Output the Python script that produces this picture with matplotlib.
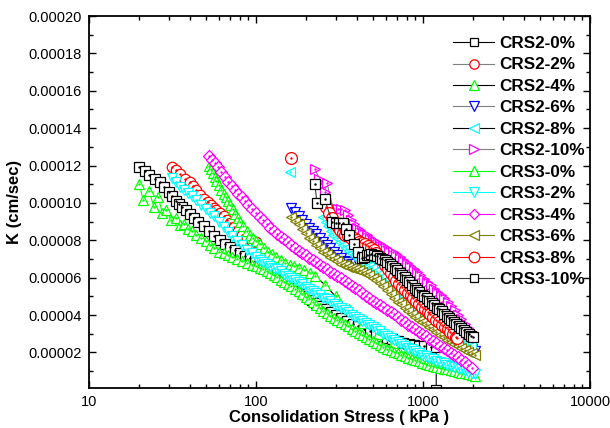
import numpy as np
import matplotlib.pyplot as plt
from matplotlib.ticker import MultipleLocator, FuncFormatter, LogLocator, NullFormatter

plt.rcParams['font.family'] = ['Liberation Sans', 'DejaVu Sans']

nan = np.nan

# Consolidation stress (kPa) and K (in 1e-5 cm/sec).
# stress steps of the dense high-stress part of the CRS3 runs
s_grid = [100, 105, 110, 116, 122, 128, 134, 141, 148, 155, 163, 171, 180, 189, 198, 208, 218, 229, 241, 253,
          265, 279, 293, 307, 323, 339, 356, 374, 392, 412, 432, 454, 477, 500, 525, 552, 579, 608, 639, 670,
          704, 739, 776, 815, 856, 899, 943, 991, 1040, 1092, 1147, 1204, 1264, 1327, 1394, 1464, 1537, 1614,
          1694, 1779, 1868, 1961, 2059]

s_crs2_0 = [20, 21.5, 22.9, 24.7, 26.6, 28.3, 30, 31.5, 33, 34.5, 36, 38, 40, 42.5, 45, 48.5, 52, 56, 61, 65.5,
            70, 75, 80, 86, 92, 98, 105, 111, 118, 125, 132, 140, 148, 156, 165, 175, 185, 195, 205, 217,
            230, 245, 260, 280, 300, 325, 350, 380, 410, 445, 480, 520, 560, 605, 650, 705, 760, 820, 880, 950,
            1020, 1110, 1200, 1200]
k_crs2_0 = [11.9, 11.7, 11.5, 11.3, 11.1, 10.85, 10.6, 10.35, 10.1, 9.95, 9.8, 9.6, 9.4, 9.2, 9.0, 8.75, 8.5, 8.25, 8.0, 7.82,
            7.65, 7.47, 7.3, 7.17, 7.05, 6.92, 6.8, 6.7, 6.6, 6.4, 6.2, 6.05, 5.9, 5.75, 5.6, 5.45, 5.3, 5.15, 5.0, 4.82,
            4.65, 4.47, 4.3, 4.15, 4.0, 3.85, 3.7, 3.55, 3.4, 3.27, 3.15, 3.02, 2.9, 2.8, 2.7, 2.6, 2.5, 2.45, 2.4, 2.37,
            2.35, 2.32, 2.3, 0.0]

s_crs2_2 = [31.4, 33, 35, 37.5, 40, 42, 44, 46.5, 49, 51.5, 54, 56, 58, 61, 64, 67, 70, 74, 78, 83, 88, 94, 100]
k_crs2_2 = [11.9, 11.75, 11.55, 11.3, 11.1, 10.9, 10.7, 10.45, 10.2, 10.05, 9.9, 9.75, 9.6, 9.45, 9.3, 9.1, 8.9, 8.7,
            8.5, 8.3, 8.1, 7.98, 7.9]

s_crs2_4 = [52, 53.5, 55, 56.5, 58, 60, 62, 64, 66, 68, 70, 72.5, 75, 77.5, 80, 84, 88, 92, 96, 100,
            105, 111, 118, 125, 132, 141, 150, 160, 170, 182, 195, 210, 225, 260, 300, 360, 440, 540, 660, 800,
            980, 1200, 1500, 2000]
k_crs2_4 = [12.0, 11.8, 11.6, 11.4, 11.2, 10.95, 10.7, 10.5, 10.3, 10.1, 9.9, 9.65, 9.4, 9.2, 9.0, 8.75, 8.5, 8.3, 8.1, 7.95,
            7.8, 7.6, 7.4, 7.25, 7.1, 6.95, 6.8, 6.7, 6.6, 6.5, 6.4, 6.25, 6.1, 5.6, 5.0, 4.3, 3.6, 3.0, 2.5, 2.1,
            1.75, 1.45, 1.15, 0.85]

s_crs2_6 = s_grid[10:]
k_crs2_6 = [9.73, 9.5, 9.3, 9.08, 8.85, 8.68, 8.52, 8.33, 8.13, 7.93, 7.75, 7.57, 7.39, 7.22, 7.06, 6.92, 6.82, 6.76,
            6.72, 6.70, 6.68, 6.64, 6.50, 6.32, 6.12, 5.92, 5.72, 5.50, 5.30, 5.12, 4.94, 4.78, 4.62, 4.46, 4.30,
            4.15, 4.00, 3.86, 3.73, 3.60, 3.46, 3.32, 3.18, 3.05, 2.92, 2.80, 2.68, 2.57, 2.46, 2.36, 2.26, 2.17, 2.10]

s_crs2_8 = [160, nan, 252, 261, 270, 280, 290, 304, 318, 331, 345, 360, 375, 392, 410, 430, 450, 472, 495, 520,
            545, 572, 600, 630, 660, 695, 730, 765, 800, 840, 880, 925, 970, 1020, 1070, 1125, 1180, 1240, 1300, 1365,
            1430, 1505, 1580, 1665, 1750, 1850, 1950]
k_crs2_8 = [11.66, nan, 9.25, 9.0, 8.75, 8.52, 8.3, 8.1, 7.9, 7.75, 7.6, 7.45, 7.3, 7.15, 7.0, 6.87, 6.75, 6.62, 6.5, 6.35,
            6.2, 6.05, 5.9, 5.72, 5.55, 5.38, 5.2, 5.03, 4.85, 4.67, 4.5, 4.35, 4.2, 4.05, 3.9, 3.75, 3.6, 3.47, 3.35, 3.22,
            3.1, 2.97, 2.85, 2.72, 2.6, 2.47, 2.35]

s_crs2_10 = [225, 240, 258, 266, 289, 310, 325, 340, 355, 370, 385, 400, 420, 440, 460, 480, 502, 525, 550, 575,
             602, 630, 660, 690, 725, 760, 800, 840, 880, 920, 965, 1010, 1060, 1110, 1165, 1220, 1280, 1340, 1405, 1470,
             1545, 1620, 1700, 1780, 1870, 1960]
k_crs2_10 = [11.82, 11.3, 10.6, 11.07, 9.73, 9.7, 9.66, 9.62, 9.35, 9.1, 8.88, 8.66, 8.53, 8.4, 8.28, 8.15, 8.03, 7.9, 7.8, 7.7,
             7.58, 7.45, 7.35, 7.25, 7.1, 6.95, 6.78, 6.6, 6.45, 6.3, 6.12, 5.95, 5.78, 5.6, 5.42, 5.25, 5.08, 4.9, 4.7, 4.5,
             4.25, 4.0, 3.78, 3.55, 3.32, 3.1]

s_crs3_0 = [20, 21.1, 22.9, 24.5, 26, 27.5, 29, 31, 33, 35, 37, 39, 41.5, 44, 47, 50, 53, 56, 60, 64,
            68, 72, 77, 82, 88, 94] + s_grid
k_crs3_0 = [11.0, 10.16, 10.64, 9.78, 10.3, 9.46, 9.6, 9.1, 9.2, 8.8, 8.85, 8.6, 8.5, 8.3, 8.15, 7.95, 7.75, 7.6, 7.4, 7.3,
            7.2, 7.1, 7.0, 6.9, 6.8, 6.7,
            6.60, 6.52, 6.44, 6.34, 6.24, 6.13, 6.02, 5.90, 5.78, 5.66, 5.53, 5.40, 5.27, 5.13, 4.99, 4.84, 4.69, 4.54,
            4.38, 4.23, 4.09, 3.96, 3.84, 3.73, 3.61, 3.50, 3.39, 3.27, 3.16, 3.04, 2.93, 2.82, 2.71, 2.60, 2.50, 2.40,
            2.30, 2.21, 2.12, 2.03, 1.95, 1.87, 1.79, 1.72, 1.65, 1.58, 1.52, 1.46, 1.40, 1.34, 1.29, 1.24, 1.19, 1.14,
            1.09, 1.04, 1.00, 0.96, 0.92, 0.88, 0.84, 0.79, 0.74]

s_crs3_2 = [31.4, 33, 35, 37, 39, 41.5, 44, 47, 50, 53, 56, 60, 64, 68, 72, 77, 82, 88, 94] + s_grid
k_crs3_2 = [11.33, 11.1, 10.85, 10.7, 10.53, 10.35, 10.17, 9.9, 9.65, 9.45, 9.3, 9.0, 8.7, 8.45, 8.25, 7.95, 7.75, 7.5, 7.3,
            7.10, 6.95, 6.86, 6.74, 6.64, 6.54, 6.45, 6.34, 6.20, 6.10, 5.99, 5.88, 5.75, 5.64, 5.52, 5.41, 5.30, 5.18,
            5.06, 4.94, 4.84, 4.73, 4.62, 4.49, 4.37, 4.26, 4.14, 4.03, 3.92, 3.80, 3.70, 3.57, 3.46, 3.35, 3.24, 3.13,
            3.00, 2.88, 2.76, 2.66, 2.54, 2.44, 2.35, 2.25, 2.16, 2.06, 1.98, 1.89, 1.81, 1.72, 1.64, 1.56, 1.49, 1.42,
            1.35, 1.28, 1.22, 1.15, 1.09, 1.02, 0.96, 0.90, 0.84]

s_crs3_4 = [52, 54.5, 57, 59.5, 62, 65, 68, 71.5, 75, 78.5, 82, 86, 90, 94.5] + s_grid[:62]
k_crs3_4 = [12.5, 12.3, 12.13, 11.9, 11.66, 11.4, 11.12, 10.9, 10.7, 10.5, 10.3, 10.1, 9.9, 9.7,
            9.46, 9.26, 9.08, 8.87, 8.68, 8.51, 8.36, 8.20, 8.05, 7.89, 7.74, 7.59, 7.45, 7.32, 7.20, 7.08, 6.96, 6.84,
            6.70, 6.58, 6.47, 6.33, 6.21, 6.08, 5.96, 5.83, 5.71, 5.58, 5.45, 5.33, 5.18, 5.04, 4.90, 4.78, 4.66, 4.53,
            4.42, 4.29, 4.16, 4.04, 3.90, 3.75, 3.61, 3.49, 3.37, 3.24, 3.12, 2.98, 2.86, 2.73, 2.62, 2.49, 2.37, 2.24,
            2.12, 1.99, 1.87, 1.74, 1.61, 1.48, 1.35, 1.18]

s_crs3_6 = s_grid[10:]
k_crs3_6 = [9.25, 9.02, 8.85, 8.62, 8.38, 8.15, 7.95, 7.75, 7.58, 7.40, 7.25, 7.12, 6.98, 6.88, 6.76, 6.66, 6.59, 6.52,
            6.45, 6.39, 6.32, 6.24, 6.13, 6.01, 5.88, 5.72, 5.53, 5.32, 5.12, 4.93, 4.72, 4.57, 4.40, 4.22, 4.06, 3.90,
            3.76, 3.63, 3.51, 3.38, 3.25, 3.10, 2.96, 2.83, 2.69, 2.56, 2.46, 2.35, 2.25, 2.15, 2.05, 1.95, 1.85]

s_crs3_8 = [162, nan, 262, 272, 285, 297, 310, 320, 330, 343, 356, 370, 385, 400, 416, 432, 450, 468, 487,
            506, 526, 547, 569, 592, 615, 640, 666, 692, 720, 749, 779, 810, 842, 876, 911, 947, 985, 1024, 1065,
            1108, 1152, 1198, 1246, 1296, 1348, 1402, 1458, 1516, 1577, 1600]
k_crs3_8 = [12.4, nan, 9.78, 9.45, 9.2, 8.95, 8.7, 8.55, 8.39, 8.3, 8.22, 8.15, 8.1, 8.02, 7.93, 7.86, 7.78, 7.68, 7.58,
            7.46, 7.32, 7.15, 6.93, 6.7, 6.47, 6.25, 6.03, 5.85, 5.67, 5.5, 5.34, 5.19, 5.05, 4.9, 4.75, 4.6, 4.45, 4.3, 4.17,
            4.04, 3.9, 3.76, 3.62, 3.48, 3.35, 3.23, 3.1, 2.97, 2.85, 2.8]

s_crs3_10 = [225, 232, 258, 285, 300, 315, 330, 345, 360, 385, 410, 430, 445, 460, 475, 490, 510, 530, 550, 570,
             590, 610, 632, 655, 677, 700, 725, 750, 775, 800, 830, 860, 890, 920, 952, 985, 1020, 1055, 1092, 1130,
             1170, 1210, 1252, 1295, 1340, 1385, 1432, 1480, 1532, 1585, 1640, 1700, 1760, 1820, 1885, 1950, 2000]
k_crs3_10 = [11.0, 9.98, 10.2, 9.0, 8.95, 8.93, 8.9, 8.6, 8.3, 7.8, 7.38, 7.05, 7.12, 7.2, 7.23, 7.25, 7.2, 7.15, 7.08, 7.0,
             6.93, 6.85, 6.73, 6.6, 6.5, 6.4, 6.27, 6.15, 6.02, 5.9, 5.75, 5.6, 5.47, 5.35, 5.22, 5.1, 5.0, 4.9, 4.77, 4.65,
             4.52, 4.4, 4.3, 4.2, 4.07, 3.95, 3.85, 3.75, 3.62, 3.5, 3.4, 3.3, 3.2, 3.1, 3.0, 2.9, 2.85]

# label, stress, K, marker, marker colour, line colour, marker size
series = [
    ("CRS2-0%", s_crs2_0, k_crs2_0, 's', 'black', 'black', 7),
    ("CRS2-2%", s_crs2_2, k_crs2_2, 'o', 'red', 'gray', 7.5),
    ("CRS2-4%", s_crs2_4, k_crs2_4, '^', '#00ff00', 'black', 7.5),
    ("CRS2-6%", s_crs2_6, k_crs2_6, 'v', 'blue', 'gray', 7.5),
    ("CRS2-8%", s_crs2_8, k_crs2_8, '<', 'cyan', 'black', 7.5),
    ("CRS2-10%", s_crs2_10, k_crs2_10, '>', 'magenta', 'gray', 7.5),
    ("CRS3-0%", s_crs3_0, k_crs3_0, '^', '#00ff00', '#00ff00', 7.5),
    ("CRS3-2%", s_crs3_2, k_crs3_2, 'v', 'cyan', 'cyan', 7.5),
    ("CRS3-4%", s_crs3_4, k_crs3_4, 'D', 'magenta', 'magenta', 6),
    ("CRS3-6%", s_crs3_6, k_crs3_6, '<', '#808000', '#808000', 7.5),
    ("CRS3-8%", s_crs3_8, k_crs3_8, 'o', 'red', 'red', 8.5),
    ("CRS3-10%", s_crs3_10, k_crs3_10, 's', 'black', '#404040', 7),
]

fig = plt.figure(figsize=(6.1, 4.28), dpi=100)
ax = fig.add_axes([89/610, 1-388/428, 501/610, 372/428])

for label, s, k, mk, mc, lc, ms in series:
    s = np.array(s, dtype=float)
    k = np.array(k, dtype=float) * 1e-5
    ax.plot(s, k, color=lc, lw=0.8, marker=mk, ms=ms, mfc='white', mec=mc, mew=0.9, label=label)
    ax.plot(s, k, ls='none', marker='.', ms=1.5, color=mc)

ax.set_xscale('log')
ax.set_xlim(10, 10000)
ax.set_ylim(1e-6, 2e-4)
ax.xaxis.set_major_locator(LogLocator(base=10, numticks=10))
ax.xaxis.set_major_formatter(FuncFormatter(lambda v, p: f"{v:g}"))
ax.xaxis.set_minor_locator(LogLocator(base=10, subs=np.arange(2, 10), numticks=20))
ax.xaxis.set_minor_formatter(NullFormatter())
ax.set_yticks(np.arange(2e-5, 2.01e-4, 2e-5))
ax.yaxis.set_major_formatter(FuncFormatter(lambda v, p: f"{v:.5f}"))
ax.yaxis.set_minor_locator(MultipleLocator(1e-5))

ax.tick_params(which='both', direction='in', top=True, right=True, labelsize=10.5, width=1)
ax.tick_params(which='major', length=5, pad=5)
ax.tick_params(which='minor', length=3)
for sp in ax.spines.values():
    sp.set_linewidth(1.3)

ax.set_xlabel('Consolidation Stress ( kPa )', fontsize=12, fontweight='bold', labelpad=1)
ax.set_ylabel('K (cm/sec)', fontsize=12, fontweight='bold', labelpad=5)

ax.legend(loc='upper left', bbox_to_anchor=((453-89)/501, (388-36)/372), frameon=False,
          borderpad=0, borderaxespad=0, labelspacing=0.38, handlelength=2.4, handletextpad=0.3,
          numpoints=1, markerscale=0.9, prop={'size': 12.3, 'weight': 'bold'})

fig.savefig('out.png', dpi=100)
